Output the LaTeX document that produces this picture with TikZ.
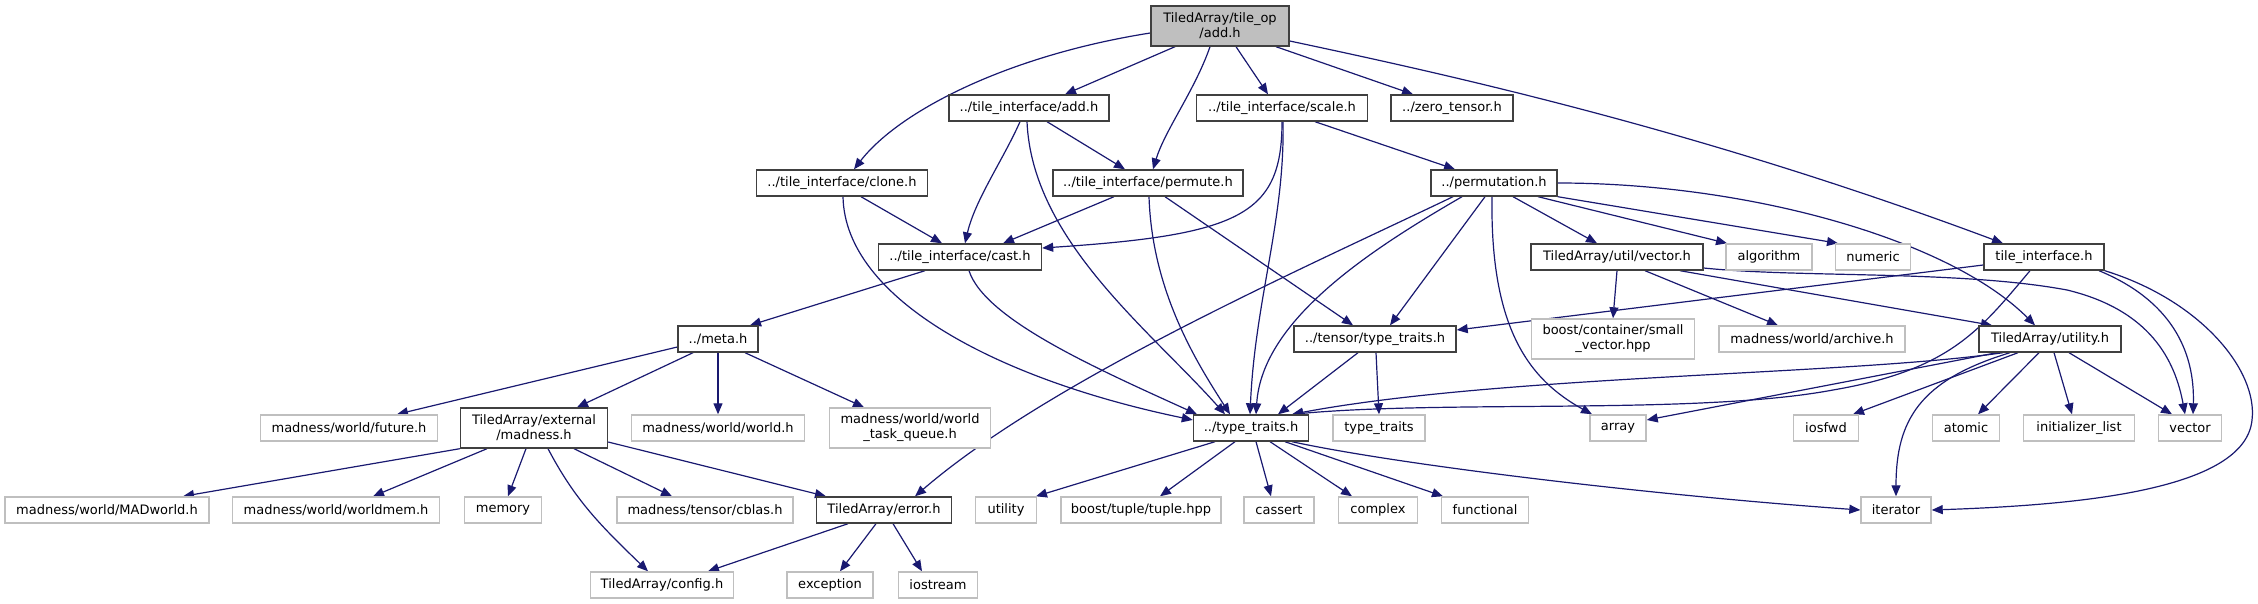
\documentclass[tikz,border=0pt]{standalone}
\usepackage{fontspec}
\newfontfamily\dv{DejaVu Sans}
\usetikzlibrary{arrows.meta}
\definecolor{edgeblue}{HTML}{191970}
\definecolor{topgray}{HTML}{BFBFBF}
\definecolor{lightborder}{HTML}{BFBFBF}
\definecolor{darkborder}{HTML}{404040}
\pgfdeclarelayer{bg}
\pgfsetlayers{bg,main}
\begin{document}
\begin{tikzpicture}[x=1pt,y=-1pt,
  every node/.style={font=\dv\fontsize{13}{15}\selectfont, inner sep=0pt, align=center},
  nb/.style={draw=darkborder, line width=1.4pt, fill=white, minimum height=26pt},
  ng/.style={draw=lightborder, line width=1.4pt, fill=white, minimum height=26pt},
  tall/.style={minimum height=40pt},
  topnode/.style={draw=darkborder, line width=1.4pt, fill=topgray, minimum height=40pt},
  e/.style={draw=edgeblue, line width=1.2pt, -{Triangle[length=11pt,width=9pt]}}]
\useasboundingbox (0,0) rectangle (2258,604);
% rank 0
\node[topnode, minimum width=138pt] (T) at (1220,26) {TiledArray/tile\_op\\/add.h};
% rank 1
\node[nb, minimum width=160pt] (TIadd) at (1029,108) {../tile\_interface/add.h};
\node[nb, minimum width=171pt] (scale) at (1282,108) {../tile\_interface/scale.h};
\node[nb, minimum width=122pt] (zero) at (1452,108) {../zero\_tensor.h};
% rank 2
\node[nb, minimum width=171pt] (clone) at (842,183) {../tile\_interface/clone.h};
\node[nb, minimum width=190pt] (permute) at (1148,183) {../tile\_interface/permute.h};
\node[nb, minimum width=126pt] (permutation) at (1494,183) {../permutation.h};
% rank 3
\node[nb, minimum width=163pt] (cast) at (960,257) {../tile\_interface/cast.h};
\node[nb, minimum width=172pt] (vecH) at (1617,257) {TiledArray/util/vector.h};
\node[ng, minimum width=86pt] (algorithm) at (1769,257) {algorithm};
\node[ng, minimum width=75pt] (numeric) at (1873,257) {numeric};
\node[nb, minimum width=120pt] (tileif) at (2044,257) {tile\_interface.h};
% rank 4
\node[nb, minimum width=80pt] (meta) at (718,339) {../meta.h};
\node[nb, minimum width=162pt] (tensorTT) at (1375,339) {../tensor/type\_traits.h};
\node[ng, tall, minimum width=163pt] (smallvec) at (1613,339) {boost/container/small\\\_vector.hpp};
\node[ng, minimum width=186pt] (archive) at (1812,339) {madness/world/archive.h};
\node[nb, minimum width=142pt] (utility) at (2050,339) {TiledArray/utility.h};
% rank 5
\node[ng, minimum width=177pt] (future) at (349,428) {madness/world/future.h};
\node[nb, tall, minimum width=147pt] (madness) at (534,428) {TiledArray/external\\/madness.h};
\node[ng, minimum width=173pt] (world) at (718,428) {madness/world/world.h};
\node[ng, tall, minimum width=161pt] (wtq) at (910,428) {madness/world/world\\\_task\_queue.h};
\node[nb, minimum width=115pt] (TT) at (1251,428) {../type\_traits.h};
\node[ng, minimum width=92pt] (typetraits) at (1379,428) {type\_traits};
\node[ng, minimum width=56pt] (array) at (1618,428) {array};
\node[ng, minimum width=65pt] (iosfwd) at (1826,428) {iosfwd};
\node[ng, minimum width=67pt] (atomic) at (1966,428) {atomic};
\node[ng, minimum width=111pt] (initlist) at (2079,428) {initializer\_list};
\node[ng, minimum width=63pt] (vector) at (2190,428) {vector};
% rank 6
\node[ng, minimum width=204pt] (MADworld) at (107,510) {madness/world/MADworld.h};
\node[ng, minimum width=207pt] (worldmem) at (336,510) {madness/world/worldmem.h};
\node[ng, minimum width=77pt] (memory) at (503,510) {memory};
\node[ng, minimum width=176pt] (cblas) at (705,510) {madness/tensor/cblas.h};
\node[nb, minimum width=135pt] (error) at (884,510) {TiledArray/error.h};
\node[ng, minimum width=61pt] (ustd) at (1006,510) {utility};
\node[ng, minimum width=160pt] (tuple) at (1141,510) {boost/tuple/tuple.hpp};
\node[ng, minimum width=70pt] (cassert) at (1279,510) {cassert};
\node[ng, minimum width=79pt] (complex) at (1378,510) {complex};
\node[ng, minimum width=87pt] (functional) at (1485,510) {functional};
\node[ng, minimum width=70pt] (iterator) at (1896,510) {iterator};
% rank 7
\node[ng, minimum width=143pt] (config) at (662,585) {TiledArray/config.h};
\node[ng, minimum width=86pt] (exception) at (830,585) {exception};
\node[ng, minimum width=79pt] (iostream) at (938,585) {iostream};

\begin{pgfonlayer}{bg}
% from top node
\draw[e] ([yshift=-7pt]T.west) .. controls (1010,55) and (900,110) .. ([xshift=12pt]clone.north);
\draw[e] ([xshift=-45pt]T.south) -- ([xshift=36pt]TIadd.north);
\draw[e] ([xshift=-10pt]T.south) .. controls (1195,90) and (1165,130) .. ([xshift=5pt]permute.north);
\draw[e] ([xshift=16pt]T.south) -- ([xshift=-14pt]scale.north);
\draw[e] ([xshift=56pt]T.south) -- ([xshift=-39pt]zero.north);
\draw[e] ([yshift=-15pt]T.east) .. controls (1450,75) and (1700,130) .. ([xshift=-41pt]tileif.north);
% tile_interface/add.h
\draw[e] ([xshift=-9pt]TIadd.south) .. controls (1003,160) and (975,200) .. ([xshift=5pt]cast.north);
\draw[e] ([xshift=-2pt]TIadd.south) .. controls (1032,240) and (1150,330) .. ([xshift=-26pt]TT.north);
\draw[e] ([xshift=18pt]TIadd.south) -- ([xshift=-23pt]permute.north);
% scale.h
\draw[e] (scale.south) .. controls (1282,215) and (1240,235) .. ([yshift=9pt]cast.east);
\draw[e] ([xshift=1pt]scale.south) .. controls (1285,220) and (1255,300) .. ([xshift=-1pt]TT.north);
\draw[e] ([xshift=33pt]scale.south) -- ([xshift=-39pt]permutation.north);
% clone.h
\draw[e] ([xshift=19pt]clone.south) -- ([xshift=-18pt]cast.north);
\draw[e] ([xshift=1pt]clone.south) .. controls (845,300) and (1000,380) .. ([yshift=8pt]TT.west);
% permute.h
\draw[e] ([xshift=-34pt]permute.south) -- ([xshift=43pt]cast.north);
\draw[e] ([xshift=1pt]permute.south) .. controls (1152,290) and (1195,360) .. ([xshift=-21pt]TT.north);
\draw[e] ([xshift=17pt]permute.south) -- ([xshift=-22pt]tensorTT.north);
% permutation.h
\draw[e] ([xshift=-41pt]permutation.south) .. controls (1300,270) and (1050,380) .. ([xshift=31pt]error.north);
\draw[e] ([xshift=-32pt]permutation.south) .. controls (1370,250) and (1262,320) .. ([xshift=5pt]TT.north);
\draw[e] ([xshift=-9pt]permutation.south) -- ([xshift=15pt]tensorTT.north);
\draw[e] ([xshift=-2pt]permutation.south) .. controls (1490,330) and (1530,380) .. ([xshift=-26pt]array.north);
\draw[e] ([xshift=19pt]permutation.south) -- ([xshift=-20pt]vecH.north);
\draw[e] ([xshift=44pt]permutation.south) -- ([xshift=-42pt]algorithm.north);
\draw[e] (permutation.south east) -- ([xshift=-35pt]numeric.north);
\draw[e] (permutation.east) .. controls (1750,183) and (1950,240) .. ([xshift=-15pt]utility.north);
% cast.h
\draw[e] ([xshift=-35pt]cast.south) -- ([xshift=32pt]meta.north);
\draw[e] ([xshift=9pt]cast.south) .. controls (985,320) and (1100,370) .. ([xshift=-54pt]TT.north);
% meta.h
\draw[e] ([yshift=-8pt]meta.west) -- ([xshift=48pt]future.north);
\draw[e] ([xshift=-25pt]meta.south) -- ([xshift=43pt]madness.north);
\draw[e] (meta.south) -- (world.north);
\draw[e] ([xshift=27pt]meta.south) -- ([xshift=-46pt]wtq.north);
% tensor/type_traits.h
\draw[e] ([xshift=-17pt]tensorTT.south) -- ([xshift=27pt]TT.north);
\draw[e] ([xshift=1pt]tensorTT.south) -- (typetraits.north);
% tile_interface.h
\draw[e] ([yshift=-8pt]tileif.west) -- ([yshift=9pt]tensorTT.east);
\draw[e] ([xshift=-14pt]tileif.south) .. controls (1980,330) and (1950,370) .. (1833,390) .. controls (1700,415) and (1450,400) .. ([xshift=41pt]TT.north);
\draw[e] ([xshift=55pt]tileif.south) .. controls (2170,300) and (2195,350) .. ([xshift=3pt]vector.north);
\draw[e] (tileif.south east) .. controls (2200,300) and (2258,370) .. (2252,420) .. controls (2245,490) and (2080,505) .. (iterator.east);
% util/vector.h
\draw[e] (vecH.south) -- (smallvec.north);
\draw[e] ([xshift=28pt]vecH.south) -- ([xshift=-34pt]archive.north);
\draw[e] ([xshift=63pt]vecH.south) -- ([xshift=-58pt]utility.north);
\draw[e] ([yshift=-11pt]vecH.east) .. controls (1800,278) and (1960,270) .. (2067,290) .. controls (2150,310) and (2175,360) .. ([xshift=-5pt]vector.north);
% utility.h
\draw[e] ([xshift=-47pt]utility.south) .. controls (1850,375) and (1500,375) .. ([xshift=41pt]TT.north);
\draw[e] ([xshift=-53pt]utility.south) -- ([yshift=8pt]array.east);
\draw[e] ([xshift=-32pt]utility.south) -- ([xshift=27pt]iosfwd.north);
\draw[e] ([xshift=-11pt]utility.south) -- ([xshift=12pt]atomic.north);
\draw[e] ([xshift=4pt]utility.south) -- ([xshift=-7pt]initlist.north);
\draw[e] ([xshift=19pt]utility.south) -- ([xshift=-18pt]vector.north);
\draw[e] ([xshift=-40pt]utility.south) .. controls (1920,380) and (1896,420) .. (iterator.north);
% type_traits.h
\draw[e] ([xshift=-36pt]TT.south) -- ([xshift=30pt]ustd.north);
\draw[e] ([xshift=-16pt]TT.south) -- ([xshift=19pt]tuple.north);
\draw[e] ([xshift=5pt]TT.south) -- ([xshift=-8pt]cassert.north);
\draw[e] ([xshift=19pt]TT.south) -- ([xshift=-26pt]complex.north);
\draw[e] ([xshift=34pt]TT.south) -- ([xshift=-42pt]functional.north);
\draw[e] ([xshift=41pt]TT.south) .. controls (1400,465) and (1650,495) .. (iterator.west);
% external/madness.h
\draw[e] (madness.south west) -- ([xshift=76pt]MADworld.north);
\draw[e] ([xshift=-47pt]madness.south) -- ([xshift=37pt]worldmem.north);
\draw[e] ([xshift=-8pt]madness.south) -- ([xshift=5pt]memory.north);
\draw[e] ([xshift=14pt]madness.south) .. controls (575,500) and (600,525) .. ([xshift=-14pt]config.north);
\draw[e] ([xshift=40pt]madness.south) -- ([xshift=-33pt]cblas.north);
\draw[e] ([yshift=-14pt]madness.east) -- ([xshift=-58pt]error.north);
% error.h
\draw[e] ([xshift=-36pt]error.south) -- ([xshift=46pt]config.north);
\draw[e] ([xshift=-8pt]error.south) -- ([xshift=10pt]exception.north);
\draw[e] ([xshift=9pt]error.south) -- ([xshift=-16pt]iostream.north);
\end{pgfonlayer}
\end{tikzpicture}
\end{document}
